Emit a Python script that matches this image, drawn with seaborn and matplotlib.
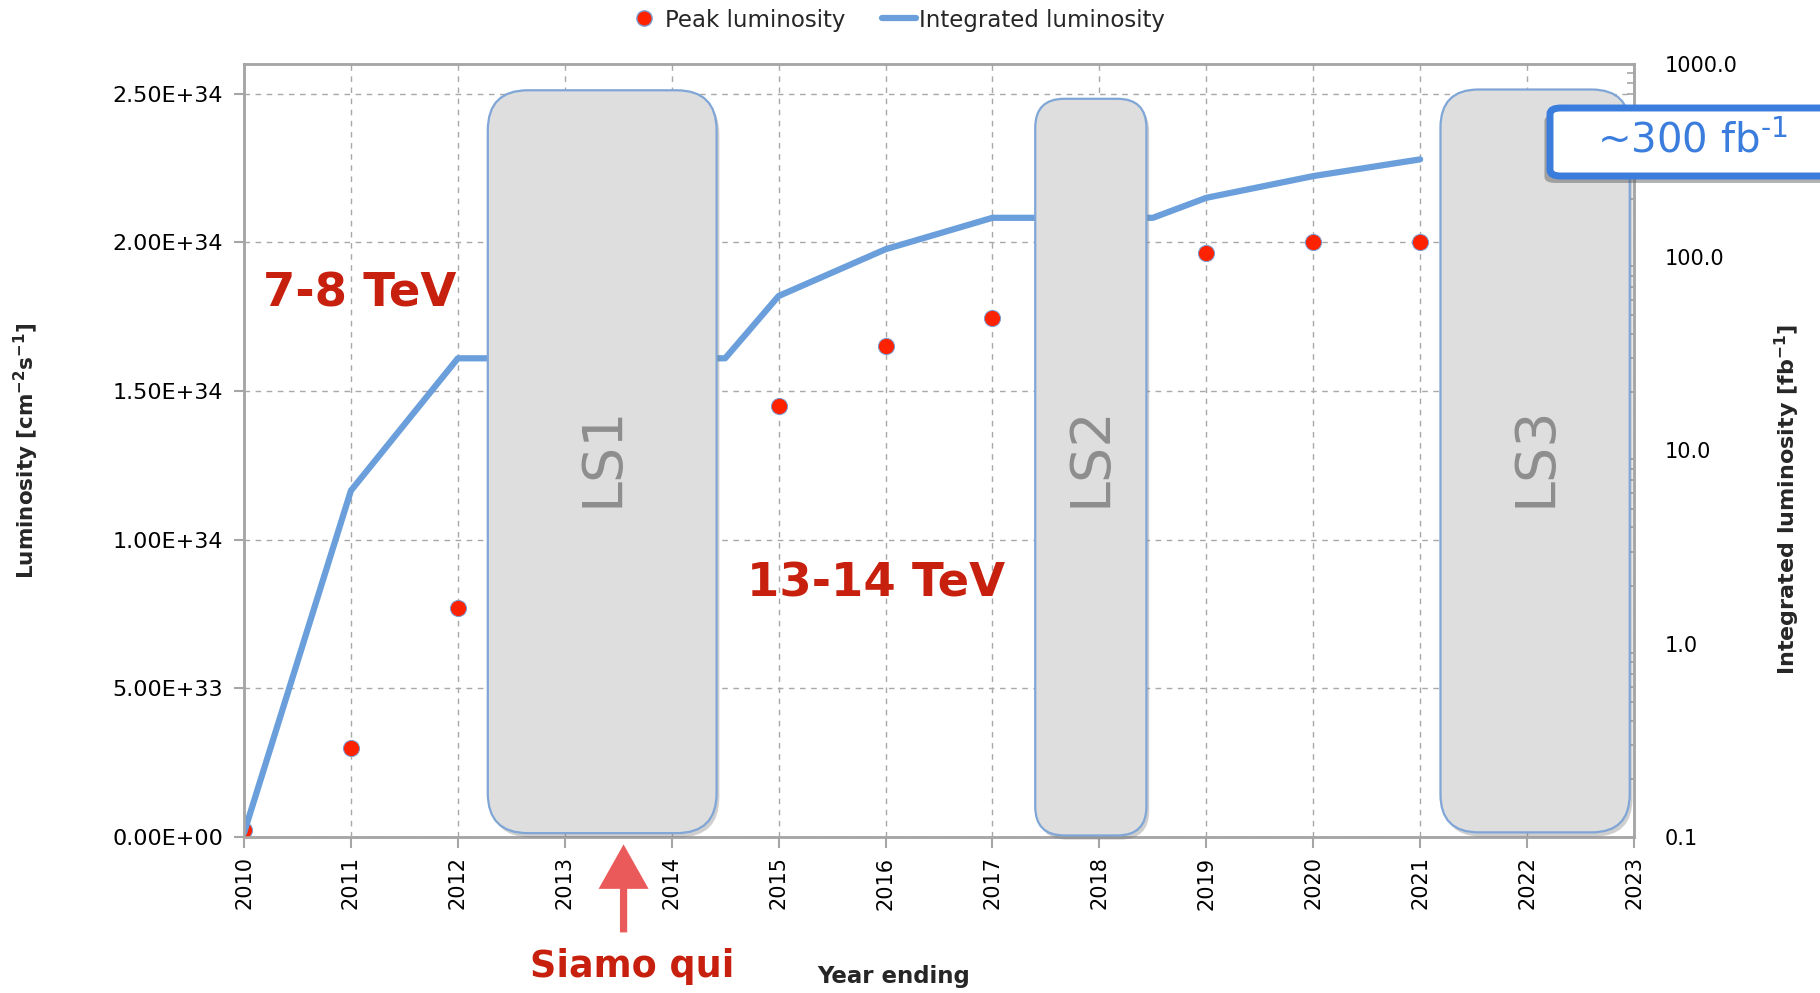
import numpy as np
import pandas as pd
import matplotlib
matplotlib.use("Agg")
import matplotlib.pyplot as plt
import seaborn as sns
from matplotlib.patches import FancyBboxPatch
from matplotlib.ticker import FuncFormatter, FixedLocator, LogLocator, NullFormatter
from matplotlib.lines import Line2D
import matplotlib.patheffects as pe

# ---------------- data ----------------
peak_years = [2010, 2011, 2012, 2015, 2016, 2017, 2019, 2020, 2021]
peak_lumi = [2.3e32, 3.0e33, 7.7e33, 1.45e34, 1.65e34, 1.745e34, 1.965e34, 2.0e34, 2.0e34]

int_years = [2010, 2011, 2012, 2014.5, 2015, 2016, 2017, 2018.5, 2019, 2020, 2021]
int_lumi = [0.105, 6.2, 30, 30, 63, 110, 160, 160, 203, 263, 321]

shutdown_labels = ["LS1", "LS2", "LS3"]
shutdown_start = [2012.28, 2017.40, 2021.19]
shutdown_end = [2014.42, 2018.44, 2022.96]

year_ticks = list(range(2010, 2024))
left_ticks = [0, 5e33, 1e34, 1.5e34, 2e34, 2.5e34]
right_ticks = [0.1, 1, 10, 100, 1000]

# ---------------- style ----------------
sns.set_theme(style="white")
plt.rcParams['font.family'] = ['DejaVu Sans']
plt.rcParams['mathtext.default'] = 'regular'

RED = '#FF2200'
BLUE = '#6A9FDC'
SPINE = '#A6A6A6'
GRID = '#A8A8A8'
TXTRED = '#C8200E'

fig = plt.figure(figsize=(18.2, 9.93), dpi=100)
ax = fig.add_axes([244/1820, 1-837/993, 1390/1820, 773/993])
ax2 = ax.twinx()

# peak luminosity (left axis)
sns.scatterplot(x=peak_years, y=peak_lumi, ax=ax, color=RED, s=135,
                edgecolor='#7A9CD0', linewidth=0.7, zorder=5, legend=False)

# integrated luminosity (right axis, log)
sns.lineplot(x=int_years, y=int_lumi, ax=ax2, color=BLUE, linewidth=4.5,
             sort=False, estimator=None, legend=False, zorder=2)

ax.set_xlim(2010, 2023)
ax.set_ylim(0, 2.6e34)
ax2.set_yscale('log')
ax2.set_ylim(0.1, 1000)

ax.set_xticks(year_ticks)
ax.set_xticklabels([str(y) for y in year_ticks], rotation=90)
ax.yaxis.set_major_locator(FixedLocator(left_ticks))
ax.yaxis.set_major_formatter(FuncFormatter(lambda v, p: f"{v:.2E}"))
ax2.yaxis.set_major_locator(FixedLocator(right_ticks))
ax2.yaxis.set_major_formatter(FuncFormatter(lambda v, p: f"{v:.1f}"))
ax2.yaxis.set_minor_locator(LogLocator(base=10, subs=np.arange(2, 10)))
ax2.yaxis.set_minor_formatter(NullFormatter())

ax.grid(True, which='major', axis='both', linestyle=(0, (4, 4)), color=GRID, lw=1.0)
ax2.grid(False)

for a in (ax, ax2):
    for s in a.spines.values():
        s.set_color(SPINE)
        s.set_linewidth(1.8)

ax.tick_params(axis='y', which='major', direction='out', length=7, width=1.5,
               color=SPINE, labelsize=16, pad=8, labelcolor='black', left=True)
ax.tick_params(axis='x', which='major', direction='out', length=8, width=1.5,
               color=SPINE, labelsize=15, pad=6, labelcolor='black', bottom=True)
ax2.tick_params(axis='y', which='major', direction='in', length=0, labelsize=15,
                pad=22, labelcolor='black', right=True)
ax2.tick_params(axis='y', which='minor', direction='in', length=5, width=1.2,
                color=SPINE, right=True)

ax.set_ylabel(r"Luminosity [cm$^{\mathbf{-2}}$s$^{\mathbf{-1}}$]", fontsize=15.5,
              fontweight='bold')
ax.yaxis.set_label_coords(-0.146, 0.50)
ax2.set_ylabel(r"Integrated luminosity [fb$^{\mathbf{-1}}$]", fontsize=16,
               fontweight='bold', rotation=90)
ax2.yaxis.set_label_coords(1.100, 0.437)
ax.set_xlabel("Year ending", fontsize=16.5, fontweight='bold')
ax.xaxis.set_label_coords(0.467, -0.166)

# ---------------- long shutdown boxes ----------------
aspect = (1390/1820 * 18.2) / (773/993 * 9.93)
radii = [40, 29, 38]
tops = [0.966, 0.955, 0.967]
bottoms = [0.005, 0.002, 0.006]
to_axes = ax.transData + ax.transAxes.inverted()
for lab, x0, x1, r, t, b in zip(shutdown_labels, shutdown_start, shutdown_end,
                                radii, tops, bottoms):
    fx0 = to_axes.transform((x0, 0))[0]
    fx1 = to_axes.transform((x1, 0))[0]
    rr = r / 1390
    box = FancyBboxPatch((fx0, b), fx1 - fx0, t - b,
                         boxstyle=f"round,pad=0,rounding_size={rr}",
                         mutation_aspect=aspect,
                         transform=ax2.transAxes, facecolor='#DEDEDE',
                         edgecolor='#7FA6D6', linewidth=1.6, zorder=6,
                         clip_on=False)
    box.set_path_effects([pe.SimplePatchShadow(offset=(2, -3), shadow_rgbFace='#777777',
                                               alpha=0.35), pe.Normal()])
    ax2.add_patch(box)
    ax2.text((fx0 + fx1) / 2, 0.493, lab, transform=ax2.transAxes, rotation=90,
             ha='center', va='center', fontsize=40, color='#8E8E8E', zorder=7)

# ---------------- annotations ----------------
ax.text(0.0835, 0.703, "7-8 TeV", transform=ax.transAxes, ha='center', va='center',
        fontsize=33.5, fontweight='bold', color=TXTRED)
ax.text(0.455, 0.327, "13-14 TeV", transform=ax.transAxes, ha='center', va='center',
        fontsize=33.5, fontweight='bold', color=TXTRED, zorder=8)
ax.text(0.2796, -0.168, "Siamo qui", transform=ax.transAxes, ha='center', va='center',
        fontsize=26.3, fontweight='bold', color=TXTRED)

arrow_x = 2013.55
ax.annotate("", xy=(arrow_x, -0.006), xytext=(arrow_x, -0.127),
            xycoords=ax.get_xaxis_transform(), textcoords=ax.get_xaxis_transform(),
            annotation_clip=False,
            arrowprops=dict(arrowstyle="simple,head_length=0.8,head_width=0.9,tail_width=0.13",
                            mutation_scale=40, color='#EB5A5A', lw=0))

# ~300 fb-1 callout
callout = FancyBboxPatch((1550/1820, 1-176/993), 500/1820, 68/993,
                         boxstyle="round,pad=0,rounding_size=0.006",
                         transform=fig.transFigure, facecolor='white',
                         edgecolor='#3B7DDD', linewidth=5, zorder=10, clip_on=False)
callout.set_path_effects([pe.SimplePatchShadow(offset=(-4, -5), shadow_rgbFace='#555555',
                                               alpha=0.45), pe.Normal()])
fig.patches.append(callout)
fig.text(1692/1820, 1-141/993, r"~300 fb$^{\text{-1}}$", ha='center', va='center',
         fontsize=29, color='#3B7DDD', zorder=11)

# legend
handles = [Line2D([], [], marker='o', linestyle='', markerfacecolor=RED,
                  markeredgecolor='#7A9CD0', markersize=11),
           Line2D([], [], color=BLUE, lw=4.5)]
fig.legend(handles, ["Peak luminosity", "Integrated luminosity"], loc='center',
           bbox_to_anchor=(896/1820, 1-20/993), ncol=2, frameon=False, fontsize=16.5,
           handlelength=1.5, handletextpad=0.15, columnspacing=1.6)

fig.savefig("out.png", dpi=100)
